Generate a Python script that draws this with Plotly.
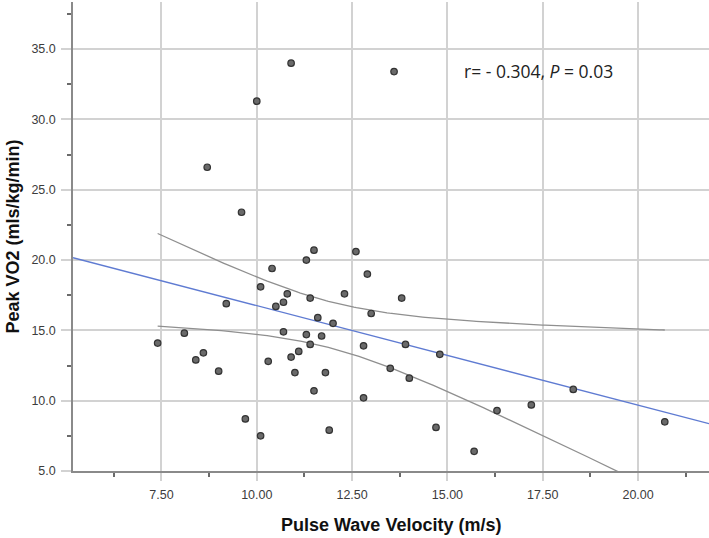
import numpy as np
import plotly.graph_objects as go

# Data
pwv = [10.9, 10.0, 13.6, 8.7, 9.6, 11.5, 11.3, 12.6, 10.4, 12.9,
       10.1, 10.8, 11.4, 12.3, 10.7, 10.5, 13.0, 11.6, 12.0, 10.7,
       11.3, 11.7, 11.4, 11.1, 12.8, 9.2, 8.1, 7.4, 8.6, 8.4,
       9.0, 10.3, 9.7, 10.1, 10.9, 11.0, 11.8, 11.5, 12.8, 11.9,
       13.8, 13.9, 14.8, 13.5, 14.0, 16.3, 14.7, 15.7, 17.2, 18.3, 20.7]
vo2 = [34.0, 31.3, 33.4, 26.6, 23.4, 20.7, 20.0, 20.6, 19.4, 19.0,
       18.1, 17.6, 17.3, 17.6, 17.0, 16.7, 16.2, 15.9, 15.5, 14.9,
       14.7, 14.6, 14.0, 13.5, 13.9, 16.9, 14.8, 14.1, 13.4, 12.9,
       12.1, 12.8, 8.7, 7.5, 13.1, 12.0, 12.0, 10.7, 10.2, 7.9,
       17.3, 14.0, 13.3, 12.3, 11.6, 9.3, 8.1, 6.4, 9.7, 10.8, 8.5]
annotation_text = "r= - 0.304, <i>P</i> = 0.03"
x_title = "Pulse Wave Velocity (m/s)"
y_title = "Peak VO2 (mls/kg/min)"

X_RANGE = [5.18, 21.86]
Y_RANGE = [5.0, 38.35]
T_CRIT = 2.0096  # t(0.975, df=49)

x = np.array(pwv)
y = np.array(vo2)
n = len(x)
slope, intercept = np.polyfit(x, y, 1)
resid = y - (slope * x + intercept)
s = np.sqrt(np.sum(resid ** 2) / (n - 2))
sxx = np.sum((x - x.mean()) ** 2)

xl = np.array(X_RANGE)
yl = slope * xl + intercept

xc = np.linspace(x.min(), x.max(), 200)
yc = slope * xc + intercept
half = T_CRIT * s * np.sqrt(1.0 / n + (xc - x.mean()) ** 2 / sxx)

fig = go.Figure()
fig.add_trace(go.Scatter(x=xc, y=yc + half, mode="lines",
                         line=dict(color="#8f8f8f", width=1.3), hoverinfo="skip"))
fig.add_trace(go.Scatter(x=xc, y=yc - half, mode="lines",
                         line=dict(color="#8f8f8f", width=1.3), hoverinfo="skip"))
fig.add_trace(go.Scatter(x=xl, y=yl, mode="lines",
                         line=dict(color="#5f7bd2", width=1.3), hoverinfo="skip"))
fig.add_trace(go.Scatter(x=pwv, y=vo2, mode="markers",
                         marker=dict(size=6.5, color="#6a6a6a",
                                     line=dict(color="#333333", width=1.2))))

tickfont = dict(family="Liberation Sans, Arial, sans-serif", size=12.5, color="#3c3c3c")
fig.update_layout(
    width=709, height=538,
    margin=dict(l=73, r=0, t=2, b=67),
    paper_bgcolor="white", plot_bgcolor="white",
    showlegend=False,
    xaxis=dict(range=X_RANGE, dtick=2.5, tick0=0, tickformat=".2f",
               showgrid=True, gridcolor="#d2d2d2", gridwidth=1.5,
               zeroline=False, showline=True, linecolor="#8a8a8a", linewidth=1.5,
               ticks="outside", ticklen=8, tickcolor="#d2d2d2", tickwidth=1.5,
               tickfont=tickfont, ticklabelstandoff=3,
               minor=dict(ticks="outside", ticklen=4, dtick=1.25, tick0=0,
                          tickcolor="#6a6a6a", showgrid=False)),
    yaxis=dict(range=Y_RANGE, dtick=5, tick0=0, tickformat=".1f",
               showgrid=True, gridcolor="#d2d2d2", gridwidth=1.5,
               zeroline=False, showline=True, linecolor="#8a8a8a", linewidth=1.5,
               ticks="outside", ticklen=10, tickcolor="#d2d2d2", tickwidth=1.5,
               tickfont=tickfont, ticklabelstandoff=3,
               minor=dict(ticks="outside", ticklen=4, dtick=2.5, tick0=0,
                          tickcolor="#6a6a6a", showgrid=False)),
    annotations=[
        dict(text=annotation_text, xref="paper", yref="paper", x=0.7316, y=0.8527,
             xanchor="center", yanchor="middle", showarrow=False,
             font=dict(family="Open Sans, Noto Sans, sans-serif", size=17.5, color="#222222")),
        dict(text="<b>" + x_title + "</b>", xref="paper", yref="paper", x=0.5, y=0,
             xanchor="center", yanchor="middle", yshift=-54, showarrow=False,
             font=dict(family="Liberation Sans, Arial, sans-serif", size=18, color="#111111")),
        dict(text="<b>" + y_title + "</b>", xref="paper", yref="paper", x=0, y=0.5,
             xanchor="center", yanchor="middle", xshift=-61, textangle=-90, showarrow=False,
             font=dict(family="Liberation Sans, Arial, sans-serif", size=18, color="#111111")),
    ],
)
fig.write_html("out.html", config={"displayModeBar": False},
               post_script="document.body.style.margin='0';document.body.style.padding='0';"
                           "document.body.style.overflow='hidden';")
